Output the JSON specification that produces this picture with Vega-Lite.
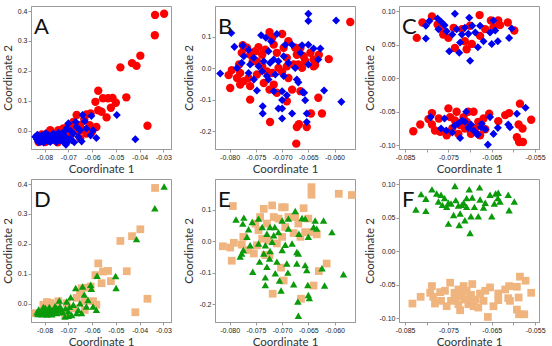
{
"$schema":"https://vega.github.io/schema/vega-lite/v6.json",
"padding":{"left":1,"top":5,"right":5,"bottom":5},
"config":{
 "view":{"stroke":"#9a9a9a","strokeWidth":1},
 "axis":{"grid":false,"domainColor":"#9a9a9a","tickColor":"#9a9a9a","tickSize":3,"labelFont":"Liberation Sans","labelFontSize":7,"labelColor":"#222","labelPadding":1,"titleFont":"Lato","titleFontSize":11.5,"titleFontWeight":"normal","titleColor":"#333"},
 "axisX":{"titlePadding":3},
 "axisY":{"titlePadding":4},
 "title":{"anchor":"start","frame":"group","fontSize":22,"font":"Lato","fontWeight":"normal","color":"#111","baseline":"top","offset":-27,"dx":3,"dy":6},
 "point":{"filled":true,"opacity":1}
},
"datasets":{
"A":[
{"x":-0.0335,"y":0.387,"g":"r"},{"x":-0.0297,"y":0.391,"g":"r"},{"x":-0.0336,"y":0.319,"g":"r"},{"x":-0.0397,"y":0.251,"g":"r"},{"x":-0.0432,"y":0.226,"g":"r"},{"x":-0.0413,"y":0.217,"g":"r"},{"x":-0.0481,"y":0.212,"g":"r"},{"x":-0.0574,"y":0.134,"g":"r"},{"x":-0.0586,"y":0.097,"g":"r"},{"x":-0.0554,"y":0.109,"g":"r"},{"x":-0.0533,"y":0.109,"g":"r"},{"x":-0.0514,"y":0.110,"g":"r"},{"x":-0.0500,"y":0.094,"g":"r"},{"x":-0.0521,"y":0.077,"g":"r"},{"x":-0.0456,"y":0.112,"g":"r"},{"x":-0.0539,"y":0.045,"g":"r"},{"x":-0.0560,"y":0.064,"g":"r"},{"x":-0.0574,"y":0.069,"g":"r"},{"x":-0.0606,"y":0.058,"g":"r"},{"x":-0.0624,"y":0.055,"g":"r"},{"x":-0.0665,"y":0.053,"g":"r"},{"x":-0.0367,"y":0.017,"g":"r"},{"x":-0.0633,"y":0.039,"g":"r"},{"x":-0.0651,"y":0.019,"g":"r"},{"x":-0.0676,"y":0.008,"g":"r"},{"x":-0.0700,"y":0.017,"g":"r"},{"x":-0.0721,"y":0.008,"g":"r"},{"x":-0.0742,"y":0.002,"g":"r"},{"x":-0.0776,"y":0.002,"g":"r"},{"x":-0.0790,"y":-0.009,"g":"r"},{"x":-0.0818,"y":-0.026,"g":"r"},{"x":-0.0825,"y":-0.037,"g":"r"},{"x":-0.0763,"y":-0.031,"g":"r"},{"x":-0.0735,"y":-0.020,"g":"r"},{"x":-0.0707,"y":-0.009,"g":"r"},{"x":-0.0624,"y":-0.009,"g":"r"},{"x":-0.0635,"y":0.002,"g":"r"},{"x":-0.0658,"y":-0.003,"g":"r"},{"x":-0.0610,"y":0.019,"g":"r"},{"x":-0.0679,"y":0.030,"g":"r"},{"x":-0.0797,"y":-0.037,"g":"r"},{"x":-0.0756,"y":-0.015,"g":"r"},{"x":-0.0582,"y":0.013,"g":"r"},{"x":-0.0770,"y":-0.005,"g":"r"},{"x":-0.0690,"y":-0.015,"g":"r"},{"x":-0.0650,"y":-0.025,"g":"r"},{"x":-0.0600,"y":-0.002,"g":"r"},{"x":-0.0715,"y":0.000,"g":"r"},{"x":-0.0745,"y":-0.038,"g":"r"},{"x":-0.0812,"y":-0.012,"g":"r"},
{"x":-0.0640,"y":0.053,"g":"b"},{"x":-0.0603,"y":0.050,"g":"b"},{"x":-0.0496,"y":0.053,"g":"b"},{"x":-0.0418,"y":-0.028,"g":"b"},{"x":-0.0596,"y":0.002,"g":"b"},{"x":-0.0582,"y":-0.024,"g":"b"},{"x":-0.0606,"y":-0.015,"g":"b"},{"x":-0.0631,"y":0.032,"g":"b"},{"x":-0.0651,"y":0.002,"g":"b"},{"x":-0.0658,"y":-0.020,"g":"b"},{"x":-0.0644,"y":-0.035,"g":"b"},{"x":-0.0679,"y":-0.009,"g":"b"},{"x":-0.0693,"y":-0.026,"g":"b"},{"x":-0.0710,"y":-0.046,"g":"b"},{"x":-0.0721,"y":-0.037,"g":"b"},{"x":-0.0735,"y":-0.031,"g":"b"},{"x":-0.0756,"y":-0.028,"g":"b"},{"x":-0.0776,"y":-0.026,"g":"b"},{"x":-0.0790,"y":-0.031,"g":"b"},{"x":-0.0804,"y":-0.026,"g":"b"},{"x":-0.0818,"y":-0.031,"g":"b"},{"x":-0.0832,"y":-0.028,"g":"b"},{"x":-0.0839,"y":-0.020,"g":"b"},{"x":-0.0811,"y":-0.015,"g":"b"},{"x":-0.0797,"y":-0.020,"g":"b"},{"x":-0.0783,"y":-0.015,"g":"b"},{"x":-0.0769,"y":-0.020,"g":"b"},{"x":-0.0749,"y":-0.015,"g":"b"},{"x":-0.0728,"y":-0.009,"g":"b"},{"x":-0.0707,"y":0.008,"g":"b"},{"x":-0.0700,"y":0.025,"g":"b"},{"x":-0.0669,"y":0.030,"g":"b"},{"x":-0.0624,"y":0.008,"g":"b"},{"x":-0.0825,"y":-0.037,"g":"b"},{"x":-0.0804,"y":-0.039,"g":"b"},{"x":-0.0776,"y":-0.037,"g":"b"},{"x":-0.0749,"y":-0.037,"g":"b"},{"x":-0.0686,"y":-0.031,"g":"b"},{"x":-0.0665,"y":0.013,"g":"b"},{"x":-0.0721,"y":-0.015,"g":"b"},{"x":-0.0763,"y":-0.009,"g":"b"},{"x":-0.0790,"y":-0.024,"g":"b"},{"x":-0.0818,"y":-0.020,"g":"b"},{"x":-0.0828,"y":-0.034,"g":"b"},{"x":-0.0815,"y":-0.036,"g":"b"},{"x":-0.0800,"y":-0.033,"g":"b"},{"x":-0.0785,"y":-0.034,"g":"b"},{"x":-0.0770,"y":-0.031,"g":"b"},{"x":-0.0755,"y":-0.034,"g":"b"},{"x":-0.0740,"y":-0.026,"g":"b"},{"x":-0.0725,"y":-0.027,"g":"b"},{"x":-0.0712,"y":-0.020,"g":"b"},{"x":-0.0700,"y":-0.035,"g":"b"},{"x":-0.0795,"y":-0.008,"g":"b"},{"x":-0.0830,"y":-0.013,"g":"b"},{"x":-0.0765,"y":-0.013,"g":"b"},{"x":-0.0742,"y":-0.006,"g":"b"},{"x":-0.0718,"y":-0.003,"g":"b"},{"x":-0.0690,"y":0.000,"g":"b"},{"x":-0.0675,"y":-0.038,"g":"b"}
],
"B":[
{"x":-0.0570,"y":0.147,"g":"r"},{"x":-0.0611,"y":0.029,"g":"r"},{"x":-0.0637,"y":0.010,"g":"r"},{"x":-0.0640,"y":0.028,"g":"r"},{"x":-0.0631,"y":-0.094,"g":"r"},{"x":-0.0624,"y":-0.144,"g":"r"},{"x":-0.0645,"y":-0.144,"g":"r"},{"x":-0.0653,"y":-0.187,"g":"r"},{"x":-0.0672,"y":-0.187,"g":"r"},{"x":-0.0668,"y":-0.178,"g":"r"},{"x":-0.0673,"y":-0.240,"g":"r"},{"x":-0.0723,"y":-0.171,"g":"r"},{"x":-0.0761,"y":-0.100,"g":"r"},{"x":-0.0799,"y":-0.063,"g":"r"},{"x":-0.0796,"y":-0.006,"g":"r"},{"x":-0.0802,"y":-0.022,"g":"r"},{"x":-0.0786,"y":-0.031,"g":"r"},{"x":-0.0780,"y":-0.015,"g":"r"},{"x":-0.0782,"y":0.012,"g":"r"},{"x":-0.0777,"y":0.049,"g":"r"},{"x":-0.0775,"y":0.073,"g":"r"},{"x":-0.0767,"y":0.065,"g":"r"},{"x":-0.0761,"y":0.043,"g":"r"},{"x":-0.0756,"y":0.022,"g":"r"},{"x":-0.0751,"y":0.054,"g":"r"},{"x":-0.0745,"y":0.067,"g":"r"},{"x":-0.0738,"y":0.043,"g":"r"},{"x":-0.0732,"y":0.059,"g":"r"},{"x":-0.0724,"y":0.115,"g":"r"},{"x":-0.0719,"y":0.097,"g":"r"},{"x":-0.0716,"y":0.075,"g":"r"},{"x":-0.0710,"y":0.049,"g":"r"},{"x":-0.0700,"y":0.109,"g":"r"},{"x":-0.0697,"y":0.065,"g":"r"},{"x":-0.0691,"y":0.033,"g":"r"},{"x":-0.0688,"y":0.086,"g":"r"},{"x":-0.0675,"y":0.065,"g":"r"},{"x":-0.0672,"y":0.043,"g":"r"},{"x":-0.0678,"y":0.012,"g":"r"},{"x":-0.0691,"y":0.006,"g":"r"},{"x":-0.0707,"y":0.001,"g":"r"},{"x":-0.0719,"y":-0.015,"g":"r"},{"x":-0.0729,"y":-0.010,"g":"r"},{"x":-0.0735,"y":-0.047,"g":"r"},{"x":-0.0724,"y":-0.068,"g":"r"},{"x":-0.0716,"y":-0.052,"g":"r"},{"x":-0.0748,"y":-0.020,"g":"r"},{"x":-0.0764,"y":-0.031,"g":"r"},{"x":-0.0773,"y":-0.041,"g":"r"},{"x":-0.0780,"y":-0.052,"g":"r"},{"x":-0.0761,"y":-0.057,"g":"r"},{"x":-0.0700,"y":-0.012,"g":"r"},{"x":-0.0688,"y":-0.031,"g":"r"},{"x":-0.0669,"y":0.012,"g":"r"},{"x":-0.0656,"y":0.024,"g":"r"},{"x":-0.0640,"y":0.006,"g":"r"},{"x":-0.0665,"y":-0.073,"g":"r"},{"x":-0.0681,"y":-0.068,"g":"r"},{"x":-0.0691,"y":-0.105,"g":"r"},{"x":-0.0710,"y":-0.078,"g":"r"},{"x":-0.0665,"y":0.065,"g":"r"},{"x":-0.0659,"y":0.038,"g":"r"},{"x":-0.0646,"y":0.049,"g":"r"},{"x":-0.0630,"y":0.043,"g":"r"},{"x":-0.0662,"y":0.001,"g":"r"},{"x":-0.0748,"y":0.022,"g":"r"},{"x":-0.0738,"y":0.006,"g":"r"},
{"x":-0.0818,"y":-0.017,"g":"b"},{"x":-0.0797,"y":0.112,"g":"b"},{"x":-0.0791,"y":0.068,"g":"b"},{"x":-0.0775,"y":0.072,"g":"b"},{"x":-0.0773,"y":0.038,"g":"b"},{"x":-0.0764,"y":0.059,"g":"b"},{"x":-0.0761,"y":0.012,"g":"b"},{"x":-0.0764,"y":-0.015,"g":"b"},{"x":-0.0754,"y":-0.036,"g":"b"},{"x":-0.0748,"y":-0.071,"g":"b"},{"x":-0.0737,"y":-0.121,"g":"b"},{"x":-0.0737,"y":-0.144,"g":"b"},{"x":-0.0740,"y":0.105,"g":"b"},{"x":-0.0731,"y":0.097,"g":"b"},{"x":-0.0721,"y":0.086,"g":"b"},{"x":-0.0710,"y":0.109,"g":"b"},{"x":-0.0700,"y":-0.128,"g":"b"},{"x":-0.0707,"y":-0.128,"g":"b"},{"x":-0.0700,"y":-0.160,"g":"b"},{"x":-0.0700,"y":-0.101,"g":"b"},{"x":-0.0681,"y":-0.144,"g":"b"},{"x":-0.0672,"y":-0.036,"g":"b"},{"x":-0.0669,"y":-0.045,"g":"b"},{"x":-0.0661,"y":-0.076,"g":"b"},{"x":-0.0650,"y":0.173,"g":"b"},{"x":-0.0650,"y":0.150,"g":"b"},{"x":-0.0650,"y":0.075,"g":"b"},{"x":-0.0653,"y":-0.144,"g":"b"},{"x":-0.0653,"y":-0.171,"g":"b"},{"x":-0.0656,"y":-0.102,"g":"b"},{"x":-0.0658,"y":-0.078,"g":"b"},{"x":-0.0681,"y":0.075,"g":"b"},{"x":-0.0694,"y":0.075,"g":"b"},{"x":-0.0697,"y":0.038,"g":"b"},{"x":-0.0707,"y":0.022,"g":"b"},{"x":-0.0716,"y":0.028,"g":"b"},{"x":-0.0726,"y":0.054,"g":"b"},{"x":-0.0735,"y":0.022,"g":"b"},{"x":-0.0738,"y":-0.010,"g":"b"},{"x":-0.0729,"y":-0.025,"g":"b"},{"x":-0.0726,"y":-0.036,"g":"b"},{"x":-0.0713,"y":-0.020,"g":"b"},{"x":-0.0697,"y":-0.025,"g":"b"},{"x":-0.0691,"y":-0.086,"g":"b"},{"x":-0.0700,"y":-0.073,"g":"b"},{"x":-0.0716,"y":-0.073,"g":"b"},{"x":-0.0597,"y":0.152,"g":"b"},{"x":-0.0587,"y":-0.107,"g":"b"},{"x":-0.0620,"y":-0.071,"g":"b"},{"x":-0.0640,"y":0.063,"g":"b"},{"x":-0.0627,"y":0.063,"g":"b"},{"x":-0.0631,"y":0.028,"g":"b"},{"x":-0.0650,"y":0.012,"g":"b"},{"x":-0.0662,"y":0.073,"g":"b"},{"x":-0.0665,"y":0.049,"g":"b"},{"x":-0.0754,"y":0.033,"g":"b"},{"x":-0.0745,"y":0.006,"g":"b"},{"x":-0.0777,"y":0.017,"g":"b"},{"x":-0.0786,"y":0.001,"g":"b"},{"x":-0.0723,"y":0.017,"g":"b"},{"x":-0.0688,"y":0.017,"g":"b"},{"x":-0.0675,"y":0.001,"g":"b"}
],
"C":[
{"x":-0.0823,"y":0.060,"g":"r"},{"x":-0.0810,"y":0.083,"g":"r"},{"x":-0.0788,"y":0.092,"g":"r"},{"x":-0.0775,"y":0.080,"g":"r"},{"x":-0.0762,"y":0.065,"g":"r"},{"x":-0.0750,"y":0.060,"g":"r"},{"x":-0.0738,"y":0.075,"g":"r"},{"x":-0.0735,"y":0.045,"g":"r"},{"x":-0.0719,"y":0.073,"g":"r"},{"x":-0.0712,"y":0.055,"g":"r"},{"x":-0.0708,"y":0.043,"g":"r"},{"x":-0.0696,"y":0.051,"g":"r"},{"x":-0.0700,"y":0.078,"g":"r"},{"x":-0.0678,"y":0.094,"g":"r"},{"x":-0.0677,"y":0.063,"g":"r"},{"x":-0.0665,"y":0.073,"g":"r"},{"x":-0.0652,"y":0.086,"g":"r"},{"x":-0.0646,"y":0.076,"g":"r"},{"x":-0.0635,"y":0.086,"g":"r"},{"x":-0.0631,"y":0.079,"g":"r"},{"x":-0.0613,"y":0.083,"g":"r"},{"x":-0.0598,"y":0.071,"g":"r"},{"x":-0.0765,"y":0.073,"g":"r"},
{"x":-0.0831,"y":-0.079,"g":"r"},{"x":-0.0815,"y":-0.069,"g":"r"},{"x":-0.0796,"y":-0.061,"g":"r"},{"x":-0.0788,"y":-0.052,"g":"r"},{"x":-0.0788,"y":-0.069,"g":"r"},{"x":-0.0781,"y":-0.078,"g":"r"},{"x":-0.0772,"y":-0.060,"g":"r"},{"x":-0.0769,"y":-0.080,"g":"r"},{"x":-0.0750,"y":-0.045,"g":"r"},{"x":-0.0746,"y":-0.058,"g":"r"},{"x":-0.0741,"y":-0.075,"g":"r"},{"x":-0.0735,"y":-0.063,"g":"r"},{"x":-0.0731,"y":-0.050,"g":"r"},{"x":-0.0723,"y":-0.070,"g":"r"},{"x":-0.0715,"y":-0.058,"g":"r"},{"x":-0.0712,"y":-0.075,"g":"r"},{"x":-0.0708,"y":-0.065,"g":"r"},{"x":-0.0704,"y":-0.050,"g":"r"},{"x":-0.0698,"y":-0.083,"g":"r"},{"x":-0.0692,"y":-0.050,"g":"r"},{"x":-0.0688,"y":-0.075,"g":"r"},{"x":-0.0681,"y":-0.065,"g":"r"},{"x":-0.0677,"y":-0.085,"g":"r"},{"x":-0.0669,"y":-0.060,"g":"r"},{"x":-0.0665,"y":-0.076,"g":"r"},{"x":-0.0656,"y":-0.053,"g":"r"},{"x":-0.0635,"y":-0.064,"g":"r"},{"x":-0.0619,"y":-0.055,"g":"r"},{"x":-0.0610,"y":-0.052,"g":"r"},{"x":-0.0585,"y":-0.038,"g":"r"},{"x":-0.0588,"y":-0.069,"g":"r"},{"x":-0.0579,"y":-0.075,"g":"r"},{"x":-0.0592,"y":-0.088,"g":"r"},{"x":-0.0587,"y":-0.095,"g":"r"},{"x":-0.0578,"y":-0.095,"g":"r"},{"x":-0.0559,"y":-0.062,"g":"r"},{"x":-0.0727,"y":-0.083,"g":"r"},{"x":-0.0754,"y":-0.085,"g":"r"},
{"x":-0.0802,"y":0.078,"g":"b"},{"x":-0.0802,"y":0.059,"g":"b"},{"x":-0.0794,"y":0.085,"g":"b"},{"x":-0.0775,"y":0.089,"g":"b"},{"x":-0.0773,"y":0.073,"g":"b"},{"x":-0.0767,"y":0.084,"g":"b"},{"x":-0.0759,"y":0.079,"g":"b"},{"x":-0.0754,"y":0.070,"g":"b"},{"x":-0.0748,"y":0.040,"g":"b"},{"x":-0.0741,"y":0.065,"g":"b"},{"x":-0.0735,"y":0.096,"g":"b"},{"x":-0.0731,"y":0.073,"g":"b"},{"x":-0.0723,"y":0.053,"g":"b"},{"x":-0.0725,"y":0.038,"g":"b"},{"x":-0.0719,"y":0.065,"g":"b"},{"x":-0.0712,"y":0.075,"g":"b"},{"x":-0.0704,"y":0.066,"g":"b"},{"x":-0.0702,"y":0.090,"g":"b"},{"x":-0.0700,"y":0.026,"g":"b"},{"x":-0.0695,"y":0.078,"g":"b"},{"x":-0.0688,"y":0.068,"g":"b"},{"x":-0.0682,"y":0.046,"g":"b"},{"x":-0.0677,"y":0.078,"g":"b"},{"x":-0.0669,"y":0.055,"g":"b"},{"x":-0.0654,"y":0.068,"g":"b"},{"x":-0.0650,"y":0.051,"g":"b"},{"x":-0.0646,"y":0.086,"g":"b"},{"x":-0.0642,"y":0.071,"g":"b"},{"x":-0.0636,"y":0.055,"g":"b"},{"x":-0.0610,"y":0.060,"g":"b"},{"x":-0.0604,"y":0.074,"g":"b"},
{"x":-0.0791,"y":-0.058,"g":"b"},{"x":-0.0759,"y":-0.060,"g":"b"},{"x":-0.0767,"y":-0.075,"g":"b"},{"x":-0.0755,"y":-0.078,"g":"b"},{"x":-0.0741,"y":-0.081,"g":"b"},{"x":-0.0736,"y":-0.071,"g":"b"},{"x":-0.0728,"y":-0.068,"g":"b"},{"x":-0.0723,"y":-0.089,"g":"b"},{"x":-0.0719,"y":-0.063,"g":"b"},{"x":-0.0709,"y":-0.050,"g":"b"},{"x":-0.0712,"y":-0.065,"g":"b"},{"x":-0.0704,"y":-0.074,"g":"b"},{"x":-0.0698,"y":-0.069,"g":"b"},{"x":-0.0692,"y":-0.078,"g":"b"},{"x":-0.0685,"y":-0.083,"g":"b"},{"x":-0.0682,"y":-0.084,"g":"b"},{"x":-0.0675,"y":-0.073,"g":"b"},{"x":-0.0673,"y":-0.068,"g":"b"},{"x":-0.0659,"y":-0.099,"g":"b"},{"x":-0.0654,"y":-0.058,"g":"b"},{"x":-0.0665,"y":-0.076,"g":"b"},{"x":-0.0646,"y":-0.083,"g":"b"},{"x":-0.0636,"y":-0.074,"g":"b"},{"x":-0.0612,"y":-0.069,"g":"b"},{"x":-0.0608,"y":-0.073,"g":"b"},{"x":-0.0592,"y":-0.053,"g":"b"},{"x":-0.0572,"y":-0.044,"g":"b"}
],
"D":[
{"x":-0.0335,"y":0.387,"g":"t"},{"x":-0.0397,"y":0.249,"g":"t"},{"x":-0.0432,"y":0.226,"g":"t"},{"x":-0.0481,"y":0.210,"g":"t"},{"x":-0.0574,"y":0.135,"g":"t"},{"x":-0.0554,"y":0.108,"g":"t"},{"x":-0.0533,"y":0.110,"g":"t"},{"x":-0.0454,"y":0.109,"g":"t"},{"x":-0.0521,"y":0.076,"g":"t"},{"x":-0.0560,"y":0.069,"g":"t"},{"x":-0.0586,"y":0.096,"g":"t"},{"x":-0.0606,"y":0.058,"g":"t"},{"x":-0.0367,"y":0.017,"g":"t"},{"x":-0.0418,"y":-0.028,"g":"t"},{"x":-0.0624,"y":0.054,"g":"t"},{"x":-0.0644,"y":0.052,"g":"t"},{"x":-0.0651,"y":0.037,"g":"t"},{"x":-0.0582,"y":-0.003,"g":"t"},{"x":-0.0596,"y":0.009,"g":"t"},{"x":-0.0631,"y":0.009,"g":"t"},{"x":-0.0665,"y":0.020,"g":"t"},{"x":-0.0707,"y":0.002,"g":"t"},{"x":-0.0742,"y":0.009,"g":"t"},{"x":-0.0776,"y":0.003,"g":"t"},{"x":-0.0790,"y":0.006,"g":"t"},{"x":-0.0839,"y":-0.031,"g":"t"},{"x":-0.0631,"y":-0.020,"g":"t"},{"x":-0.0676,"y":-0.015,"g":"t"},{"x":-0.0735,"y":-0.026,"g":"t"},{"x":-0.0714,"y":-0.037,"g":"t"},{"x":-0.0760,"y":-0.005,"g":"t"},{"x":-0.0805,"y":-0.003,"g":"t"},
{"x":-0.0297,"y":0.392,"g":"g"},{"x":-0.0336,"y":0.319,"g":"g"},{"x":-0.0413,"y":0.216,"g":"g"},{"x":-0.0501,"y":0.093,"g":"g"},{"x":-0.0499,"y":0.053,"g":"g"},{"x":-0.0579,"y":0.094,"g":"g"},{"x":-0.0606,"y":0.064,"g":"g"},{"x":-0.0640,"y":0.058,"g":"g"},{"x":-0.0669,"y":0.053,"g":"g"},{"x":-0.0603,"y":0.050,"g":"g"},{"x":-0.0633,"y":0.031,"g":"g"},{"x":-0.0617,"y":0.013,"g":"g"},{"x":-0.0596,"y":-0.009,"g":"g"},{"x":-0.0582,"y":-0.020,"g":"g"},{"x":-0.0624,"y":-0.009,"g":"g"},{"x":-0.0651,"y":0.002,"g":"g"},{"x":-0.0658,"y":-0.020,"g":"g"},{"x":-0.0644,"y":-0.031,"g":"g"},{"x":-0.0679,"y":-0.003,"g":"g"},{"x":-0.0690,"y":0.022,"g":"g"},{"x":-0.0707,"y":0.008,"g":"g"},{"x":-0.0738,"y":0.011,"g":"g"},{"x":-0.0700,"y":-0.025,"g":"g"},{"x":-0.0714,"y":-0.042,"g":"g"},{"x":-0.0728,"y":-0.020,"g":"g"},{"x":-0.0749,"y":-0.014,"g":"g"},{"x":-0.0763,"y":-0.025,"g":"g"},{"x":-0.0776,"y":-0.020,"g":"g"},{"x":-0.0790,"y":-0.025,"g":"g"},{"x":-0.0804,"y":-0.020,"g":"g"},{"x":-0.0818,"y":-0.025,"g":"g"},{"x":-0.0832,"y":-0.028,"g":"g"},{"x":-0.0811,"y":-0.035,"g":"g"},{"x":-0.0790,"y":-0.036,"g":"g"},{"x":-0.0769,"y":-0.035,"g":"g"},{"x":-0.0749,"y":-0.031,"g":"g"},{"x":-0.0797,"y":-0.013,"g":"g"},{"x":-0.0825,"y":-0.019,"g":"g"},{"x":-0.0756,"y":-0.008,"g":"g"},{"x":-0.0735,"y":-0.008,"g":"g"},{"x":-0.0686,"y":-0.037,"g":"g"},{"x":-0.0665,"y":-0.031,"g":"g"},{"x":-0.0828,"y":-0.034,"g":"g"},{"x":-0.0815,"y":-0.030,"g":"g"},{"x":-0.0800,"y":-0.031,"g":"g"},{"x":-0.0785,"y":-0.029,"g":"g"},{"x":-0.0770,"y":-0.030,"g":"g"},{"x":-0.0757,"y":-0.026,"g":"g"},{"x":-0.0742,"y":-0.022,"g":"g"},{"x":-0.0725,"y":-0.028,"g":"g"},{"x":-0.0712,"y":-0.015,"g":"g"},{"x":-0.0695,"y":-0.010,"g":"g"},{"x":-0.0805,"y":-0.010,"g":"g"},{"x":-0.0780,"y":-0.010,"g":"g"},{"x":-0.0760,"y":-0.018,"g":"g"},{"x":-0.0700,"y":-0.040,"g":"g"}
],
"E":[
{"x":-0.0644,"y":0.172,"g":"t"},{"x":-0.0644,"y":0.148,"g":"t"},{"x":-0.0592,"y":0.151,"g":"t"},{"x":-0.0567,"y":0.147,"g":"t"},{"x":-0.0794,"y":0.112,"g":"t"},{"x":-0.0813,"y":-0.016,"g":"t"},{"x":-0.0799,"y":-0.020,"g":"t"},{"x":-0.0792,"y":-0.005,"g":"t"},{"x":-0.0796,"y":-0.062,"g":"t"},{"x":-0.0777,"y":-0.011,"g":"t"},{"x":-0.0774,"y":0.014,"g":"t"},{"x":-0.0764,"y":-0.028,"g":"t"},{"x":-0.0735,"y":0.103,"g":"t"},{"x":-0.0719,"y":0.114,"g":"t"},{"x":-0.0700,"y":0.108,"g":"t"},{"x":-0.0695,"y":0.108,"g":"t"},{"x":-0.0659,"y":0.105,"g":"t"},{"x":-0.0634,"y":0.022,"g":"t"},{"x":-0.0615,"y":-0.071,"g":"t"},{"x":-0.0630,"y":-0.095,"g":"t"},{"x":-0.0640,"y":-0.141,"g":"t"},{"x":-0.0664,"y":-0.183,"g":"t"},{"x":-0.0718,"y":-0.167,"g":"t"},{"x":-0.0697,"y":-0.125,"g":"t"},{"x":-0.0702,"y":-0.084,"g":"t"},{"x":-0.0732,"y":-0.044,"g":"t"},{"x":-0.0742,"y":0.077,"g":"t"},{"x":-0.0751,"y":0.056,"g":"t"},{"x":-0.0745,"y":0.035,"g":"t"},{"x":-0.0738,"y":0.008,"g":"t"},{"x":-0.0729,"y":0.056,"g":"t"},{"x":-0.0716,"y":0.077,"g":"t"},{"x":-0.0707,"y":0.072,"g":"t"},{"x":-0.0694,"y":0.045,"g":"t"},{"x":-0.0688,"y":0.077,"g":"t"},{"x":-0.0678,"y":0.026,"g":"t"},{"x":-0.0669,"y":0.056,"g":"t"},{"x":-0.0665,"y":0.014,"g":"t"},{"x":-0.0675,"y":0.077,"g":"t"},{"x":-0.0656,"y":0.029,"g":"t"},{"x":-0.0650,"y":0.072,"g":"t"},{"x":-0.0643,"y":0.029,"g":"t"},{"x":-0.0726,"y":0.003,"g":"t"},{"x":-0.0748,"y":-0.013,"g":"t"},{"x":-0.0754,"y":-0.039,"g":"t"},{"x":-0.0710,"y":-0.007,"g":"t"},{"x":-0.0700,"y":0.014,"g":"t"},{"x":-0.0724,"y":-0.044,"g":"t"},
{"x":-0.0788,"y":0.069,"g":"g"},{"x":-0.0773,"y":0.075,"g":"g"},{"x":-0.0775,"y":0.056,"g":"g"},{"x":-0.0764,"y":0.038,"g":"g"},{"x":-0.0757,"y":0.061,"g":"g"},{"x":-0.0767,"y":0.014,"g":"g"},{"x":-0.0761,"y":-0.013,"g":"g"},{"x":-0.0777,"y":-0.039,"g":"g"},{"x":-0.0780,"y":-0.049,"g":"g"},{"x":-0.0774,"y":-0.028,"g":"g"},{"x":-0.0756,"y":-0.097,"g":"g"},{"x":-0.0743,"y":-0.065,"g":"g"},{"x":-0.0732,"y":-0.115,"g":"g"},{"x":-0.0732,"y":-0.139,"g":"g"},{"x":-0.0729,"y":-0.081,"g":"g"},{"x":-0.0735,"y":-0.039,"g":"g"},{"x":-0.0723,"y":-0.031,"g":"g"},{"x":-0.0724,"y":-0.055,"g":"g"},{"x":-0.0716,"y":0.019,"g":"g"},{"x":-0.0714,"y":0.045,"g":"g"},{"x":-0.0707,"y":0.029,"g":"g"},{"x":-0.0710,"y":-0.065,"g":"g"},{"x":-0.0713,"y":-0.102,"g":"g"},{"x":-0.0705,"y":-0.125,"g":"g"},{"x":-0.0702,"y":-0.157,"g":"g"},{"x":-0.0700,"y":-0.028,"g":"g"},{"x":-0.0694,"y":-0.011,"g":"g"},{"x":-0.0688,"y":0.040,"g":"g"},{"x":-0.0688,"y":0.072,"g":"g"},{"x":-0.0691,"y":-0.071,"g":"g"},{"x":-0.0689,"y":-0.100,"g":"g"},{"x":-0.0678,"y":-0.137,"g":"g"},{"x":-0.0675,"y":0.096,"g":"g"},{"x":-0.0672,"y":-0.034,"g":"g"},{"x":-0.0669,"y":-0.039,"g":"g"},{"x":-0.0672,"y":-0.071,"g":"g"},{"x":-0.0670,"y":-0.192,"g":"g"},{"x":-0.0669,"y":-0.237,"g":"g"},{"x":-0.0668,"y":0.024,"g":"g"},{"x":-0.0662,"y":0.074,"g":"g"},{"x":-0.0656,"y":-0.076,"g":"g"},{"x":-0.0653,"y":-0.092,"g":"g"},{"x":-0.0651,"y":-0.139,"g":"g"},{"x":-0.0650,"y":-0.171,"g":"g"},{"x":-0.0648,"y":-0.181,"g":"g"},{"x":-0.0656,"y":0.072,"g":"g"},{"x":-0.0650,"y":0.014,"g":"g"},{"x":-0.0640,"y":0.045,"g":"g"},{"x":-0.0637,"y":0.066,"g":"g"},{"x":-0.0634,"y":0.040,"g":"g"},{"x":-0.0621,"y":0.066,"g":"g"},{"x":-0.0624,"y":-0.086,"g":"g"},{"x":-0.0619,"y":-0.141,"g":"g"},{"x":-0.0605,"y":0.029,"g":"g"},{"x":-0.0583,"y":-0.105,"g":"g"},{"x":-0.0745,"y":0.072,"g":"g"},{"x":-0.0738,"y":0.045,"g":"g"},{"x":-0.0729,"y":0.024,"g":"g"},{"x":-0.0719,"y":-0.002,"g":"g"},{"x":-0.0745,"y":-0.007,"g":"g"},{"x":-0.0700,"y":0.066,"g":"g"},{"x":-0.0681,"y":-0.007,"g":"g"},{"x":-0.0732,"y":-0.013,"g":"g"},{"x":-0.0723,"y":0.045,"g":"g"}
],
"F":[
{"x":-0.0833,"y":-0.078,"g":"t"},{"x":-0.0814,"y":-0.068,"g":"t"},{"x":-0.0792,"y":-0.062,"g":"t"},{"x":-0.0788,"y":-0.052,"g":"t"},{"x":-0.0785,"y":-0.068,"g":"t"},{"x":-0.0781,"y":-0.078,"g":"t"},{"x":-0.0769,"y":-0.061,"g":"t"},{"x":-0.0767,"y":-0.074,"g":"t"},{"x":-0.0758,"y":-0.059,"g":"t"},{"x":-0.0754,"y":-0.082,"g":"t"},{"x":-0.0746,"y":-0.047,"g":"t"},{"x":-0.0744,"y":-0.074,"g":"t"},{"x":-0.0736,"y":-0.062,"g":"t"},{"x":-0.0735,"y":-0.070,"g":"t"},{"x":-0.0727,"y":-0.057,"g":"t"},{"x":-0.0723,"y":-0.088,"g":"t"},{"x":-0.0719,"y":-0.067,"g":"t"},{"x":-0.0715,"y":-0.052,"g":"t"},{"x":-0.0712,"y":-0.072,"g":"t"},{"x":-0.0708,"y":-0.059,"g":"t"},{"x":-0.0704,"y":-0.079,"g":"t"},{"x":-0.0698,"y":-0.065,"g":"t"},{"x":-0.0695,"y":-0.049,"g":"t"},{"x":-0.0692,"y":-0.082,"g":"t"},{"x":-0.0687,"y":-0.072,"g":"t"},{"x":-0.0681,"y":-0.084,"g":"t"},{"x":-0.0677,"y":-0.063,"g":"t"},{"x":-0.0669,"y":-0.074,"g":"t"},{"x":-0.0665,"y":-0.059,"g":"t"},{"x":-0.0659,"y":-0.098,"g":"t"},{"x":-0.0654,"y":-0.054,"g":"t"},{"x":-0.0646,"y":-0.082,"g":"t"},{"x":-0.0635,"y":-0.063,"g":"t"},{"x":-0.0635,"y":-0.073,"g":"t"},{"x":-0.0619,"y":-0.057,"g":"t"},{"x":-0.0610,"y":-0.052,"g":"t"},{"x":-0.0612,"y":-0.070,"g":"t"},{"x":-0.0608,"y":-0.074,"g":"t"},{"x":-0.0592,"y":-0.053,"g":"t"},{"x":-0.0592,"y":-0.087,"g":"t"},{"x":-0.0587,"y":-0.094,"g":"t"},{"x":-0.0585,"y":-0.038,"g":"t"},{"x":-0.0588,"y":-0.069,"g":"t"},{"x":-0.0575,"y":-0.094,"g":"t"},{"x":-0.0572,"y":-0.044,"g":"t"},{"x":-0.0559,"y":-0.062,"g":"t"},{"x":-0.0727,"y":-0.079,"g":"t"},{"x":-0.0700,"y":-0.070,"g":"t"},{"x":-0.0725,"y":-0.064,"g":"t"},
{"x":-0.0825,"y":0.062,"g":"g"},{"x":-0.0813,"y":0.085,"g":"g"},{"x":-0.0802,"y":0.060,"g":"g"},{"x":-0.0802,"y":0.078,"g":"g"},{"x":-0.0788,"y":0.092,"g":"g"},{"x":-0.0777,"y":0.086,"g":"g"},{"x":-0.0773,"y":0.074,"g":"g"},{"x":-0.0767,"y":0.084,"g":"g"},{"x":-0.0764,"y":0.069,"g":"g"},{"x":-0.0759,"y":0.079,"g":"g"},{"x":-0.0754,"y":0.066,"g":"g"},{"x":-0.0750,"y":0.041,"g":"g"},{"x":-0.0744,"y":0.071,"g":"g"},{"x":-0.0738,"y":0.054,"g":"g"},{"x":-0.0735,"y":0.097,"g":"g"},{"x":-0.0733,"y":0.076,"g":"g"},{"x":-0.0725,"y":0.039,"g":"g"},{"x":-0.0723,"y":0.056,"g":"g"},{"x":-0.0719,"y":0.069,"g":"g"},{"x":-0.0712,"y":0.046,"g":"g"},{"x":-0.0708,"y":0.066,"g":"g"},{"x":-0.0702,"y":0.092,"g":"g"},{"x":-0.0700,"y":0.027,"g":"g"},{"x":-0.0698,"y":0.052,"g":"g"},{"x":-0.0695,"y":0.080,"g":"g"},{"x":-0.0690,"y":0.066,"g":"g"},{"x":-0.0681,"y":0.052,"g":"g"},{"x":-0.0678,"y":0.095,"g":"g"},{"x":-0.0677,"y":0.077,"g":"g"},{"x":-0.0669,"y":0.065,"g":"g"},{"x":-0.0665,"y":0.072,"g":"g"},{"x":-0.0654,"y":0.084,"g":"g"},{"x":-0.0650,"y":0.052,"g":"g"},{"x":-0.0644,"y":0.071,"g":"g"},{"x":-0.0641,"y":0.086,"g":"g"},{"x":-0.0636,"y":0.079,"g":"g"},{"x":-0.0635,"y":0.087,"g":"g"},{"x":-0.0631,"y":0.074,"g":"g"},{"x":-0.0612,"y":0.084,"g":"g"},{"x":-0.0610,"y":0.061,"g":"g"},{"x":-0.0598,"y":0.074,"g":"g"},{"x":-0.0708,"y":0.079,"g":"g"},{"x":-0.0750,"y":0.072,"g":"g"},{"x":-0.0727,"y":0.068,"g":"g"},{"x":-0.0715,"y":0.072,"g":"g"}
]
},
"concat":[
{"width":140,"height":143,"title":"A","data":{"name":"A"},"mark":"point",
 "encoding":{
  "x":{"field":"x","type":"quantitative","title":"Coordinate 1","scale":{"domain":[-0.0857,-0.0268],"nice":false,"zero":false},"axis":{"values":[-0.08,-0.07,-0.06,-0.05,-0.04,-0.03],"labelExpr":"'-' + format(abs(datum.value), '.2f')"}},
  "y":{"field":"y","type":"quantitative","title":"Coordinate 2","scale":{"domain":[-0.0605,0.4168],"nice":false,"zero":false},"axis":{"values":[0,0.1,0.2,0.3,0.4],"format":".1f"}},
  "color":{"field":"g","type":"nominal","legend":null,"scale":{"domain":["r","b","t","g"],"range":["#ff0000","#0000f0","#f0b47e","#0a9a0a"]}},
  "shape":{"field":"g","type":"nominal","legend":null,"scale":{"domain":["r","b","t","g"],"range":["circle","diamond","square","triangle-up"]}},
  "size":{"field":"g","type":"nominal","legend":null,"scale":{"domain":["r","b","t","g"],"range":[70,55,55,65]}}
 }},
{"width":140,"height":143,"title":"B","data":{"name":"B"},"mark":"point",
 "encoding":{
  "x":{"field":"x","type":"quantitative","title":"Coordinate 1","scale":{"domain":[-0.0828,-0.0561],"nice":false,"zero":false},"axis":{"values":[-0.08,-0.075,-0.07,-0.065,-0.06],"labelExpr":"'-' + format(abs(datum.value), '.3f')"}},
  "y":{"field":"y","type":"quantitative","title":"Coordinate 2","scale":{"domain":[-0.257,0.198],"nice":false,"zero":false},"axis":{"values":[-0.2,-0.1,0,0.1],"labelExpr":"(datum.value < 0 ? '-' : '') + format(abs(datum.value), '.1f')"}},
  "color":{"field":"g","type":"nominal","legend":null,"scale":{"domain":["r","b","t","g"],"range":["#ff0000","#0000f0","#f0b47e","#0a9a0a"]}},
  "shape":{"field":"g","type":"nominal","legend":null,"scale":{"domain":["r","b","t","g"],"range":["circle","diamond","square","triangle-up"]}},
  "size":{"field":"g","type":"nominal","legend":null,"scale":{"domain":["r","b","t","g"],"range":[70,55,55,65]}}
 }},
{"width":140,"height":143,"title":"C","data":{"name":"C"},"mark":"point",
 "encoding":{
  "x":{"field":"x","type":"quantitative","title":"Coordinate 1","scale":{"domain":[-0.0864,-0.0541],"nice":false,"zero":false},"axis":{"values":[-0.085,-0.08,-0.075,-0.07,-0.065,-0.06,-0.055],"labelExpr":"abs(round(datum.value*1000)) % 10 == 5 ? '-' + format(abs(datum.value), '.3f') : ''"}},
  "y":{"field":"y","type":"quantitative","title":"Coordinate 2","scale":{"domain":[-0.1055,0.1075],"nice":false,"zero":false},"axis":{"values":[-0.1,-0.05,0,0.05,0.1],"labelExpr":"(datum.value < 0 ? '-' : '') + format(abs(datum.value), '.2f')"}},
  "color":{"field":"g","type":"nominal","legend":null,"scale":{"domain":["r","b","t","g"],"range":["#ff0000","#0000f0","#f0b47e","#0a9a0a"]}},
  "shape":{"field":"g","type":"nominal","legend":null,"scale":{"domain":["r","b","t","g"],"range":["circle","diamond","square","triangle-up"]}},
  "size":{"field":"g","type":"nominal","legend":null,"scale":{"domain":["r","b","t","g"],"range":[70,55,55,65]}}
 }},
{"width":140,"height":143,"title":"D","data":{"name":"D"},"mark":"point",
 "encoding":{
  "x":{"field":"x","type":"quantitative","title":"Coordinate 1","scale":{"domain":[-0.0857,-0.0268],"nice":false,"zero":false},"axis":{"values":[-0.08,-0.07,-0.06,-0.05,-0.04,-0.03],"labelExpr":"'-' + format(abs(datum.value), '.2f')"}},
  "y":{"field":"y","type":"quantitative","title":"Coordinate 2","scale":{"domain":[-0.0605,0.4168],"nice":false,"zero":false},"axis":{"values":[0,0.1,0.2,0.3,0.4],"format":".1f"}},
  "color":{"field":"g","type":"nominal","legend":null,"scale":{"domain":["r","b","t","g"],"range":["#ff0000","#0000f0","#f0b47e","#0a9a0a"]}},
  "shape":{"field":"g","type":"nominal","legend":null,"scale":{"domain":["r","b","t","g"],"range":["circle","diamond","square","triangle-up"]}},
  "size":{"field":"g","type":"nominal","legend":null,"scale":{"domain":["r","b","t","g"],"range":[70,55,55,65]}}
 }},
{"width":140,"height":143,"title":"E","data":{"name":"E"},"mark":"point",
 "encoding":{
  "x":{"field":"x","type":"quantitative","title":"Coordinate 1","scale":{"domain":[-0.0828,-0.0561],"nice":false,"zero":false},"axis":{"values":[-0.08,-0.075,-0.07,-0.065,-0.06],"labelExpr":"'-' + format(abs(datum.value), '.3f')"}},
  "y":{"field":"y","type":"quantitative","title":"Coordinate 2","scale":{"domain":[-0.257,0.198],"nice":false,"zero":false},"axis":{"values":[-0.2,-0.1,0,0.1],"labelExpr":"(datum.value < 0 ? '-' : '') + format(abs(datum.value), '.1f')"}},
  "color":{"field":"g","type":"nominal","legend":null,"scale":{"domain":["r","b","t","g"],"range":["#ff0000","#0000f0","#f0b47e","#0a9a0a"]}},
  "shape":{"field":"g","type":"nominal","legend":null,"scale":{"domain":["r","b","t","g"],"range":["circle","diamond","square","triangle-up"]}},
  "size":{"field":"g","type":"nominal","legend":null,"scale":{"domain":["r","b","t","g"],"range":[70,55,55,65]}}
 }},
{"width":140,"height":143,"title":"F","data":{"name":"F"},"mark":"point",
 "encoding":{
  "x":{"field":"x","type":"quantitative","title":"Coordinate 1","scale":{"domain":[-0.0864,-0.0541],"nice":false,"zero":false},"axis":{"values":[-0.085,-0.08,-0.075,-0.07,-0.065,-0.06,-0.055],"labelExpr":"abs(round(datum.value*1000)) % 10 == 5 ? '-' + format(abs(datum.value), '.3f') : ''"}},
  "y":{"field":"y","type":"quantitative","title":"Coordinate 2","scale":{"domain":[-0.1055,0.1075],"nice":false,"zero":false},"axis":{"values":[-0.1,-0.05,0,0.05,0.1],"labelExpr":"(datum.value < 0 ? '-' : '') + format(abs(datum.value), '.2f')"}},
  "color":{"field":"g","type":"nominal","legend":null,"scale":{"domain":["r","b","t","g"],"range":["#ff0000","#0000f0","#f0b47e","#0a9a0a"]}},
  "shape":{"field":"g","type":"nominal","legend":null,"scale":{"domain":["r","b","t","g"],"range":["circle","diamond","square","triangle-up"]}},
  "size":{"field":"g","type":"nominal","legend":null,"scale":{"domain":["r","b","t","g"],"range":[70,55,55,65]}}
 }}
],
"columns":3,
"spacing":{"row":30,"column":44},
"bounds":"flush"
}
